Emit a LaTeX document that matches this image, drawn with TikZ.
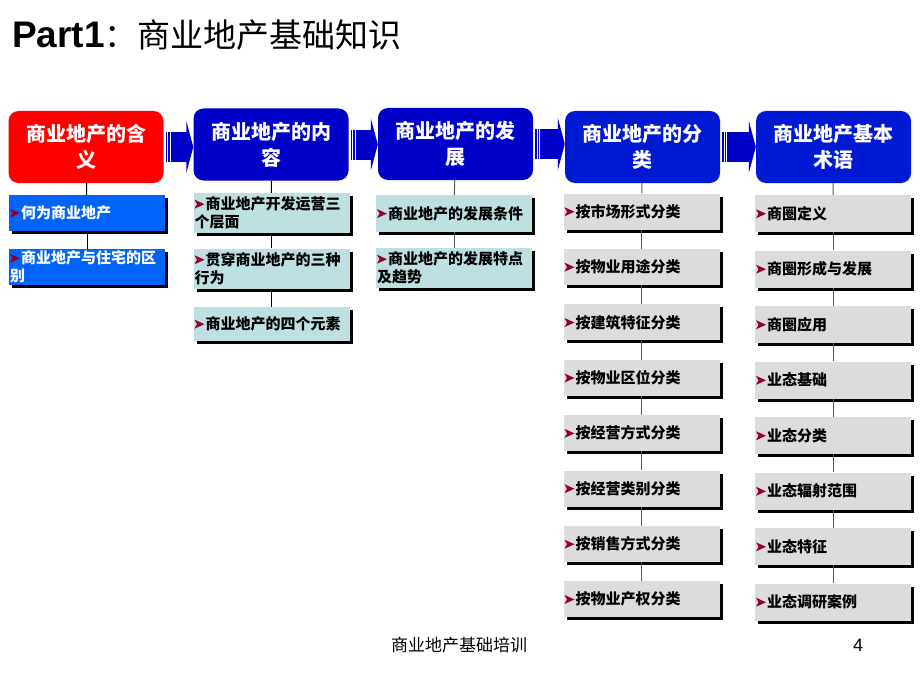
\documentclass[tikz,border=0pt]{standalone}
\usepackage{fontspec}
\setmainfont{Liberation Sans}
\newfontfamily\cjk{Noto Sans CJK SC}
\usetikzlibrary{shadows,arrows.meta}

\definecolor{hdrred}{RGB}{255,0,0}
\definecolor{hdrblue}{RGB}{0,0,200}
\definecolor{hdrblueb}{RGB}{0,25,210}
\definecolor{boxblue}{RGB}{0,100,250}
\definecolor{boxcyan}{RGB}{190,224,224}
\definecolor{boxgray}{RGB}{220,220,220}
\definecolor{linegray}{RGB}{90,90,90}
\definecolor{bulred}{RGB}{150,0,40}

\newcommand\bul{\tikz[baseline=0pt]\fill[bulred] (0pt,1pt) -- (10pt,5.5pt) -- (0pt,10pt) -- (2.5pt,5.5pt) -- cycle;\hspace{1pt}}

\tikzset{
  hdr/.style={fill=#1, rounded corners=10pt, minimum width=155pt, minimum height=72pt,
    text width=148pt, align=center, inner sep=0pt, text=white,
    font=\cjk\bfseries\fontsize{20}{26}\selectfont},
  item/.style={fill=#1, minimum width=156pt, minimum height=36pt, text width=154pt,
    inner sep=1pt, align=left, font=\cjk\bfseries\fontsize{15}{18}\selectfont,
    drop shadow={shadow xshift=3pt, shadow yshift=-3pt, fill=black, opacity=1}},
  link/.style={draw=linegray, line width=1pt},
  harrow/.style={draw=hdrblue, line width=30pt, -{Triangle[length=7pt,width=52pt]}},
  stripe/.style={draw=white, line width=0.8pt}
}

\begin{document}
\begin{tikzpicture}[x=1pt, y=-1pt]
  \useasboundingbox[fill=white] (0,0) rectangle (920,690);

  % title
  \node[anchor=base west, inner sep=0pt] (title) at (12,48)
    {{\bfseries\fontsize{37}{37}\selectfont Part1}{\cjk\fontsize{33}{33}\selectfont ：商业地产基础知识}};

  % headers
  \node[hdr=hdrred] (h1) at (86,147) {商业地产的含\\义};
  \node[hdr=hdrblue] (h2) at (271,144.5) {商业地产的内\\容};
  \node[hdr=hdrblue] (h3) at (455.5,144) {商业地产的发\\展};
  \node[hdr=hdrblueb] (h4) at (642.5,147) {商业地产的分\\类};
  \node[hdr=hdrblueb] (h5) at (833.5,147) {商业地产基本\\术语};

  % arrows between headers
  \foreach \a/\b in {h1/h2,h2/h3,h3/h4,h4/h5} {
    \draw[harrow] ([xshift=2pt]\a.east) -- (\a.east -| \b.west);
    \draw[stripe] ([xshift=4pt,yshift=-15pt]\a.east) -- ([xshift=4pt,yshift=15pt]\a.east);
    \draw[stripe] ([xshift=6.5pt,yshift=-15pt]\a.east) -- ([xshift=6.5pt,yshift=15pt]\a.east);
  }

  % column 1
  \node[item=boxblue, text=white] (a1) at (87,213) {\bul 何为商业地产};
  \node[item=boxblue, text=white] (a2) at (87,267) {\bul 商业地产与住宅的区\\别};
  \draw[link, draw=black] (h1) -- (a1);
  \draw[link, draw=black] (a1) -- (a2);

  % column 2
  \node[item=boxcyan, minimum height=40pt] (b1) at (271.5,213) {\bul 商业地产开发运营三\\个层面};
  \node[item=boxcyan, minimum height=40pt] (b2) at (271.5,268.5) {\bul 贯穿商业地产的三种\\行为};
  \node[item=boxcyan, minimum height=34pt] (b3) at (271.5,324) {\bul 商业地产的四个元素};
  \draw[link, draw=black] (h2) -- (b1);
  \draw[link, draw=black] (b1) -- (b2);
  \draw[link, draw=black] (b2) -- (b3);

  % column 3
  \node[item=boxcyan, minimum height=37pt] (c1) at (454,213.5) {\bul 商业地产的发展条件};
  \node[item=boxcyan, minimum height=40pt] (c2) at (454,268) {\bul 商业地产的发展特点\\及趋势};
  \draw[link] (h3) -- (c1);
  \draw[link] (c1) -- (c2);

  % column 4
  \foreach \t [count=\i] in {按市场形式分类,按物业用途分类,按建筑特征分类,按物业区位分类,
      按经营方式分类,按经营类别分类,按销售方式分类,按物业产权分类}
    \node[item=boxgray] (d\i) at ({641.5},{211.5+55.4*(\i-1)}) {\bul\t};
  \draw[link] (h4) -- (d1);
  \foreach \i [remember=\i as \j (initially 1)] in {2,...,8}
    \draw[link] (d\j) -- (d\i);

  % column 5
  \foreach \t [count=\i] in {商圈定义,商圈形成与发展,商圈应用,业态基础,
      业态分类,业态辐射范围,业态特征,业态调研案例}
    \node[item=boxgray, minimum height=37pt] (e\i) at ({833},{213.5+55.5*(\i-1)}) {\bul\t};
  \draw[link] (h5) -- (e1);
  \foreach \i [remember=\i as \j (initially 1)] in {2,...,8}
    \draw[link] (e\j) -- (e\i);

  % footer
  \node[font=\cjk\fontsize{17}{17}\selectfont] (foot) at (459,645) {商业地产基础培训};
  \node[font=\fontsize{18}{18}\selectfont] (page) at (858,645) {4};
\end{tikzpicture}
\end{document}
